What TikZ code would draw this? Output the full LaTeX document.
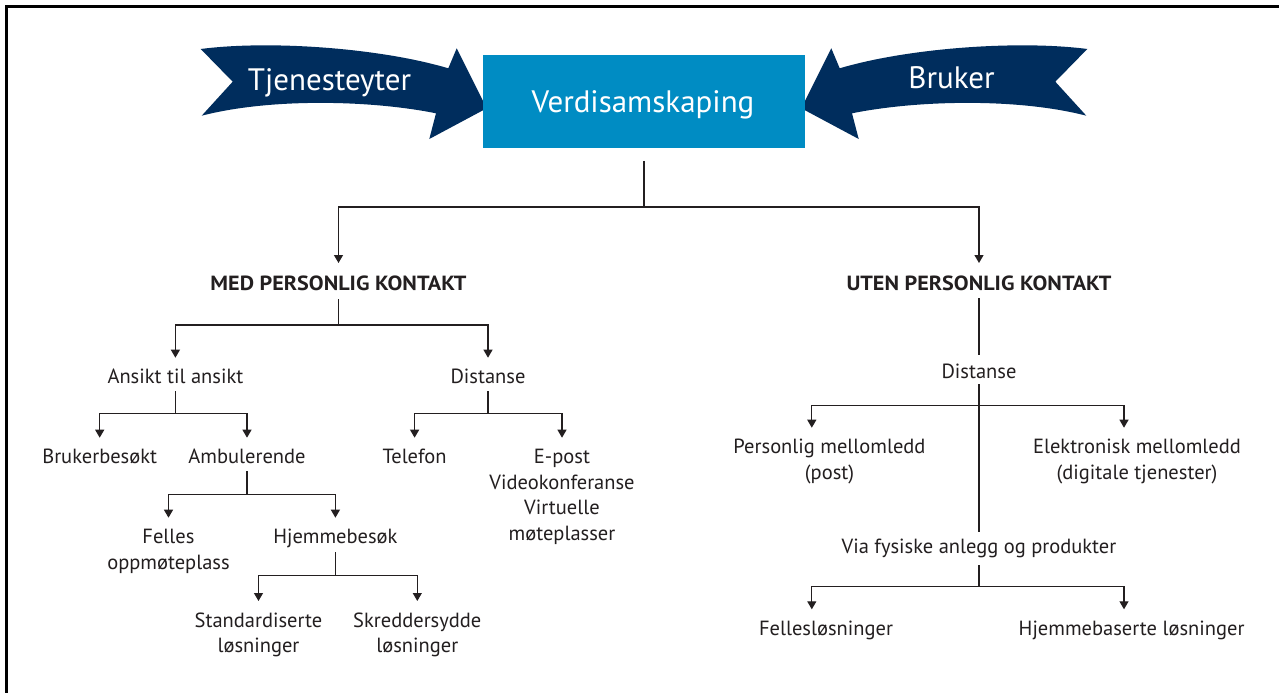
\documentclass[tikz,border=0pt]{standalone}
\usepackage{fontspec}
\setmainfont{PT Sans}
\newfontfamily\hdfont{PT Sans}[FakeStretch=1.08]
\usetikzlibrary{arrows.meta}
\definecolor{navy}{RGB}{0,45,93}
\definecolor{boxblue}{RGB}{0,140,195}
\definecolor{ink}{RGB}{35,31,32}
\newcommand{\fst}{\rule[-5pt]{0pt}{21pt}}
\newcommand{\bannerpath}{(200.7,49) .. controls (270,40) and (380,48) .. (448.3,68.3) -- (456.7,48.3) -- (486.7,108.3) -- (429.3,139) -- (436,113.3) .. controls (370,100) and (270,98) .. (201.7,115.7) -- (232.7,81.7) -- cycle}
\begin{document}
\begin{tikzpicture}[x=1pt,y=-1pt,
  lbl/.style={inner sep=0pt, anchor=north, align=center, text=ink, font=\fontsize{20.5}{25.5}\selectfont},
  hd/.style={lbl, font=\fontsize{20.5}{25.5}\selectfont\hdfont\bfseries},
  btxt/.style={inner sep=0pt, anchor=base, text=white, font=\fontsize{31}{36}\selectfont},
  ln/.style={draw=ink, line width=1.2pt},
  stem/.style={ln, shorten <=2pt},
  arr/.style={ln, -{Triangle[width=9pt,length=8pt]}, shorten >=10pt}]
\useasboundingbox (0,0) rectangle (1279,693);
\fill[white] (0,0) rectangle (1279,693);
% frame
\draw[line width=2.2pt] (6.5,700) -- (6.5,6.5) -- (1290,6.5);
% banners
\fill[navy] \bannerpath;
\begin{scope}[shift={(1288,0)}, xscale=-1]
\fill[navy] \bannerpath;
\end{scope}
% central box
\node[fill=boxblue, minimum width=322pt, minimum height=93pt, inner sep=0pt] (box) at (644,101.5) {};
\node[btxt] (verdi) at (643,112) {Verdisamskaping};
\node[btxt] (tj) at (329.5,90) {Tjenesteyter};
\node[btxt] (br) at (951.5,88.3) {Bruker};
% tree nodes
\node[hd] (med) at (338.5,274) {\fst MED PERSONLIG KONTAKT};
\node[hd] (uten) at (979,274) {\fst UTEN PERSONLIG KONTAKT};
\node[lbl] (ansikt) at (175.4,367.7) {\fst Ansikt til ansikt};
\node[lbl] (dist1) at (488,367.7) {\fst Distanse};
\node[lbl] (bruker) at (99.7,447.7) {\fst Brukerbesøkt};
\node[lbl] (ambul) at (247,447.7) {\fst Ambulerende};
\node[lbl] (tele) at (414.6,447.7) {\fst Telefon};
\node[lbl] (epost) at (562,447.7) {\fst E-post\\Videokonferanse\\Virtuelle\\møteplasser};
\node[lbl] (felles) at (168.5,527.7) {\fst Felles\\oppmøteplass};
\node[lbl] (hjemme) at (335.4,527.7) {\fst Hjemmebesøk};
\node[lbl] (standard) at (258.5,611) {\fst Standardiserte\\løsninger};
\node[lbl] (skredder) at (417.3,611) {\fst Skreddersydde\\løsninger};
\node[lbl] (dist2) at (979,362.7) {\fst Distanse};
\node[lbl] (pers) at (829.5,437.7) {\fst Personlig mellomledd\\(post)};
\node[lbl] (elek) at (1137,437.7) {\fst Elektronisk mellomledd\\(digitale tjenester)};
\node[lbl] (via) at (979,537.7) {\fst Via fysiske anlegg og produkter};
\node[lbl] (fellesl) at (826,619.3) {\fst Fellesløsninger};
\node[lbl] (hjemmeb) at (1131.6,619.3) {\fst Hjemmebaserte løsninger};
% junctions
\coordinate (j0) at (644,207);
\coordinate (j1) at (338.5,325);
\coordinate (j2) at (175.4,413.3);
\coordinate (j3) at (488,413.3);
\coordinate (j4) at (247,494.3);
\coordinate (j5) at (335.4,575.7);
\coordinate (j6) at (979,405.7);
\coordinate (j7) at (979,586.7);
% connectors
\draw[ln, shorten <=12.7pt] (box.south) -- (j0);
\draw[arr, shorten >=11pt] (j0) -| (med.north);
\draw[arr, shorten >=11pt] (j0) -| (uten.north);
\draw[stem, shorten <=4pt] (med.south) -- (j1);
\draw[arr] (j1) -| (ansikt.north);
\draw[arr] (j1) -| (dist1.north);
\draw[stem] (ansikt.south) -- (j2);
\draw[arr] (j2) -| (bruker.north);
\draw[arr] (j2) -| (ambul.north);
\draw[stem] (dist1.south) -- (j3);
\draw[arr] (j3) -| (tele.north);
\draw[arr] (j3) -| (epost.north);
\draw[stem] (ambul.south) -- (j4);
\draw[arr] (j4) -| (felles.north);
\draw[arr] (j4) -| (hjemme.north);
\draw[stem, shorten <=3pt] (hjemme.south) -- (j5);
\draw[arr] (j5) -| (standard.north);
\draw[arr] (j5) -| (skredder.north);
\draw[stem, shorten <=3pt, shorten >=7.7pt] (uten.south) -- (dist2.north);
\draw[ln, shorten >=5.4pt] (dist2.south) -- (via.north);
\draw[arr] (j6) -| ([xshift=-17.7pt]pers.north);
\draw[arr] (j6) -| ([xshift=-13pt]elek.north);
\draw[stem, shorten <=6pt] (via.south) -- (j7);
\draw[arr] (j7) -| ([xshift=-14.2pt]fellesl.north);
\draw[arr] (j7) -| ([xshift=-7.6pt]hjemmeb.north);
\end{tikzpicture}
\end{document}
